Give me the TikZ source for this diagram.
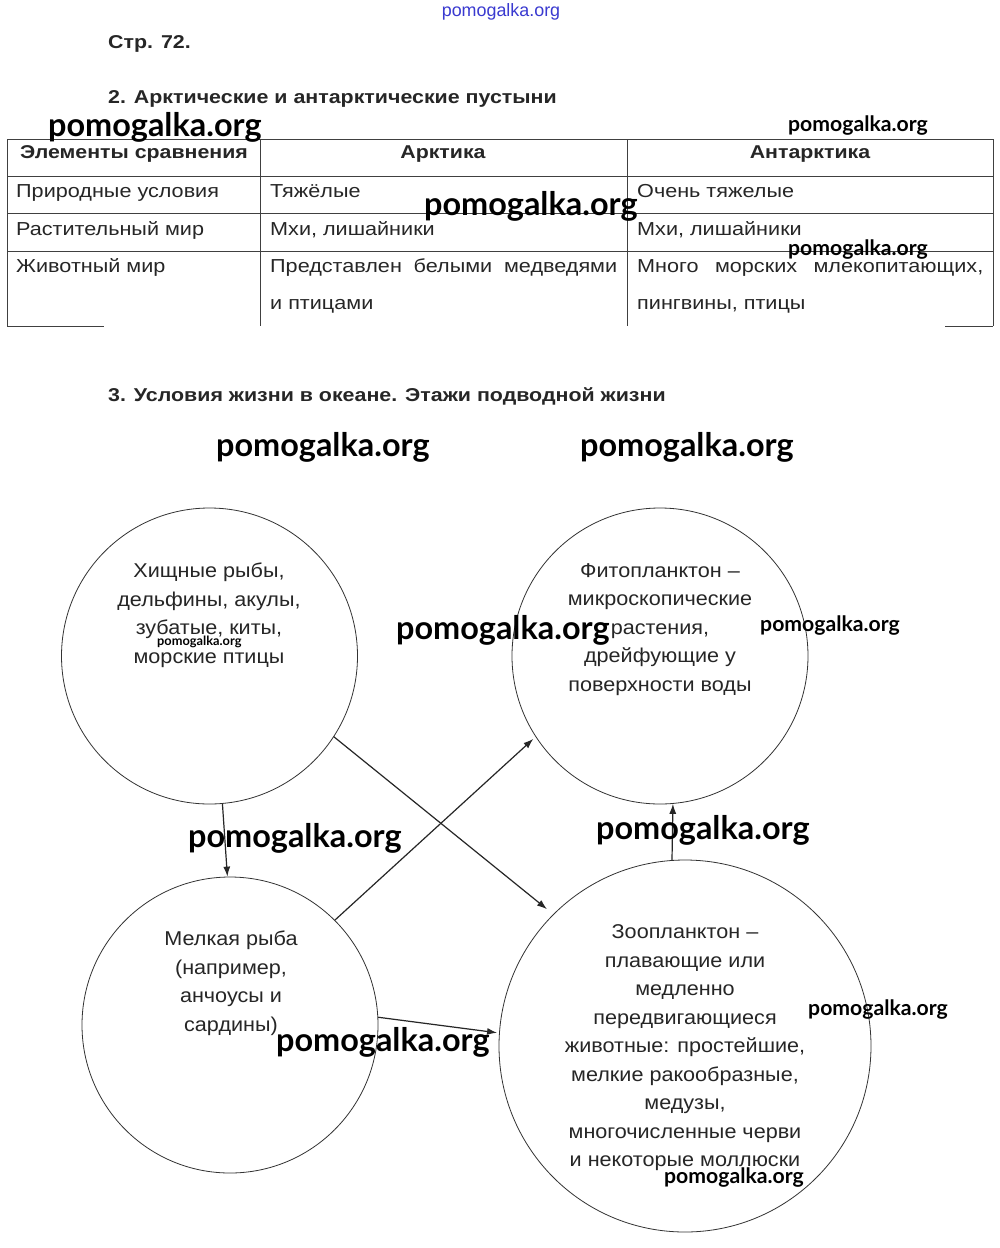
\documentclass[tikz,border=0pt]{standalone}
\usepackage{fontspec}
\setmainfont{Liberation Sans}[FakeStretch=1.15]
\newfontfamily\circfont{Liberation Sans}[FakeStretch=1.08]
\newfontfamily\plainfont{Liberation Sans}
\newfontfamily\wmfont{Lato}
\usetikzlibrary{arrows.meta}
\definecolor{ink}{HTML}{262626}
\definecolor{wmblue}{HTML}{3A3AD0}
\begin{document}
\begin{tikzpicture}[x=1pt,y=-1pt,
  tx/.style={font=\fontsize{18.8}{24}\selectfont, text=ink, inner sep=0pt, text height=14pt, text depth=4pt},
  th/.style={font=\bfseries\fontsize{18.55}{23}\selectfont, text=ink, inner sep=0pt, text height=14pt, text depth=4pt},
  hd/.style={font=\bfseries\fontsize{18.6}{23}\selectfont, text=ink, inner sep=0pt, anchor=west, text height=14pt, text depth=4pt},
  ct/.style={font=\circfont\fontsize{20}{28.5}\selectfont, text=ink, align=center, inner sep=0pt},
  circ/.style={circle, draw=black!80, line width=0.8pt, inner sep=0pt},
  arr/.style={draw=black!85, line width=1.2pt, -{Latex[length=10pt,width=7pt]}},
  wmL/.style={font=\wmfont\bfseries\fontsize{32.4}{33}\selectfont, inner sep=0pt, anchor=west},
  wmS/.style={font=\wmfont\bfseries\fontsize{21.2}{22}\selectfont, inner sep=0pt, anchor=west},
  wmT/.style={font=\wmfont\bfseries\fontsize{12.8}{13}\selectfont, inner sep=0pt, anchor=west},
  grid/.style={draw=black!75, line width=0.8pt}]
\useasboundingbox[fill=white] (0,0) rectangle (1000,1248);

% headings
\node[hd] (pg) at (108,43) {Стр. 72.};
\node[hd] (h2) at (108,98) {2. Арктические и антарктические пустыни};
\node[hd] (h3) at (108,396) {3. Условия жизни в океане. Этажи подводной жизни};

% table grid
\draw[grid] (7,139) -- (993,139);
\draw[grid] (7,176) -- (993,176);
\draw[grid] (7,213) -- (993,213);
\draw[grid] (7,251) -- (993,251);
\draw[grid] (7,139) -- (7,326);
\draw[grid] (260,139) -- (260,326);
\draw[grid] (627,139) -- (627,326);
\draw[grid] (993,139) -- (993,326);
\draw[grid] (7,326) -- (104,326);
\draw[grid] (945,326) -- (993,326);

% table text
\node[th, anchor=west] (a0) at (20,153.5) {Элементы сравнения};
\node[th] (b0) at (443,153.5) {Арктика};
\node[th] (c0) at (810,153.5) {Антарктика};
\node[tx, anchor=west] (a1) at (16,192) {Природные условия};
\node[tx, anchor=west] (b1) at (270,192) {Тяжёлые};
\node[tx, anchor=west] (c1t) at (637,192) {Очень тяжелые};
\node[tx, anchor=west] (a2) at (16,230) {Растительный мир};
\node[tx, anchor=west] (b2) at (270,230) {Мхи, лишайники};
\node[tx, anchor=west] (c2t) at (637,230) {Мхи, лишайники};
\node[tx, anchor=west] (a3) at (16,267) {Животный мир};
\node[tx, anchor=west] (b3) at (270,267) {\makebox[347pt][s]{Представлен белыми медведями}};
\node[tx, anchor=west] (b3b) at (270,304) {и птицами};
\node[tx, anchor=west] (c3t) at (637,267) {\makebox[346pt][s]{Много морских млекопитающих,}};
\node[tx, anchor=west] (c3b) at (637,304) {пингвины, птицы};

% circles
\node[circ, minimum size=296pt] (c1) at (209.5,656) {};
\node[circ, minimum size=296pt] (c2) at (660,656) {};
\node[circ, minimum size=296pt] (c3) at (230,1025) {};
\node[circ, minimum size=372pt] (c4) at (685,1046) {};

\node[ct] (t1) at (209,615) {Хищные рыбы,\\дельфины, акулы,\\зубатые, киты,\\морские птицы};
\node[ct] (t2) at (660,629.5) {Фитопланктон –\\микроскопические\\растения,\\дрейфующие у\\поверхности воды};
\node[ct] (t3) at (231,983) {Мелкая рыба\\(например,\\анчоусы и\\сардины)};
\node[ct] (t4) at (685,1048) {Зоопланктон –\\плавающие или\\медленно\\передвигающиеся\\животные: простейшие,\\мелкие ракообразные,\\медузы,\\многочисленные черви\\и некоторые моллюски};

% arrows
\draw[arr] (c1.-85) -- (c3.91);
\draw[arr, shorten >=8pt] (c1.-33) -- (c4.135);
\draw[arr, shorten >=3pt] (c3.45) -- (c2.213);
\draw[arr, shorten >=2pt] (c3.3) -- (c4.176);
\draw[arr] (c4.94) -- (c2.-85);

% watermarks
\node[font=\plainfont\fontsize{17.9}{18}\selectfont, text=wmblue, inner sep=0pt] (w0) at (501,12) {pomogalka.org};
\node[wmL] (w1) at (48,127) {pomogalka.org};
\node[wmS] (w2) at (788,126) {pomogalka.org};
\node[wmL] (w3) at (424,206) {pomogalka.org};
\node[wmS] (w4) at (788,250) {pomogalka.org};
\node[wmL] (w5) at (216,447) {pomogalka.org};
\node[wmL] (w6) at (580,447) {pomogalka.org};
\node[wmL] (w7) at (396,630) {pomogalka.org};
\node[wmS] (w8) at (760,626) {pomogalka.org};
\node[wmT] (w9) at (157,642) {pomogalka.org};
\node[wmL] (w10) at (188,838) {pomogalka.org};
\node[wmL] (w11) at (596,830) {pomogalka.org};
\node[wmS] (w12) at (808,1010) {pomogalka.org};
\node[wmL] (w13) at (276,1042) {pomogalka.org};
\node[wmS] (w14) at (664,1178) {pomogalka.org};
\end{tikzpicture}
\end{document}
